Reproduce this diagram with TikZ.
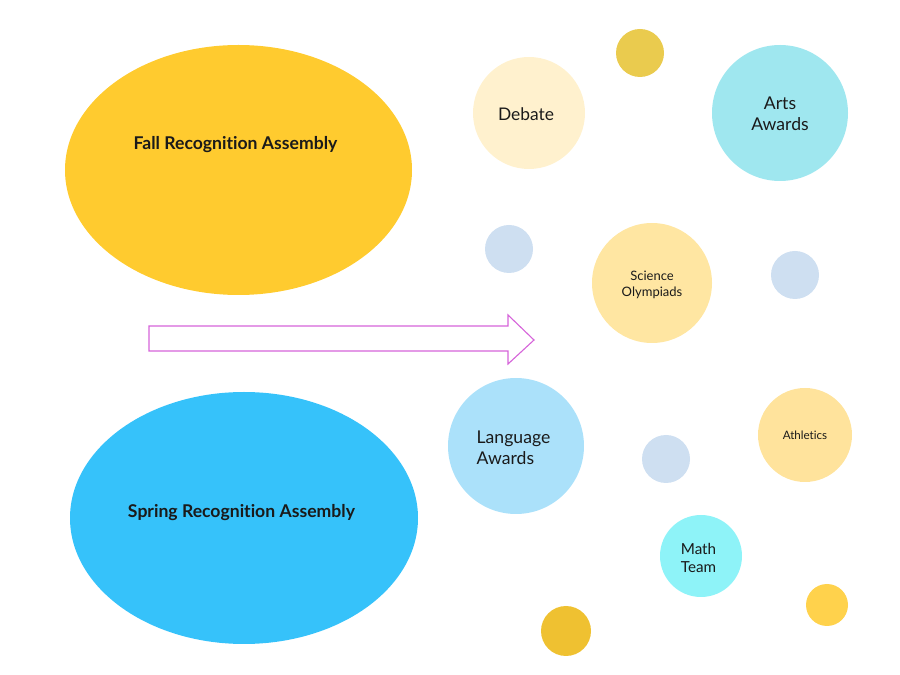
\documentclass[tikz,border=0pt]{standalone}
\usepackage{fontspec}
\setmainfont[Ligatures=NoCommon]{Lato}
\usetikzlibrary{shapes.geometric,shapes.arrows}
\definecolor{fallc}{HTML}{FFCB2F}
\definecolor{springc}{HTML}{36C2FA}
\definecolor{debatec}{HTML}{FFF1CE}
\definecolor{artsc}{HTML}{9FE7EF}
\definecolor{scic}{HTML}{FFE6A2}
\definecolor{langc}{HTML}{ABE1FA}
\definecolor{athc}{HTML}{FFE39C}
\definecolor{mathc}{HTML}{8EF3F8}
\definecolor{dotblue}{HTML}{CEDFF1}
\definecolor{golda}{HTML}{EACB4E}
\definecolor{goldb}{HTML}{EFC131}
\definecolor{goldc}{HTML}{FFD24C}
\definecolor{arrowc}{HTML}{D664DA}
\definecolor{txt}{HTML}{1A1A1A}
\tikzset{
  bubble/.style={circle, inner sep=0pt, text=txt, align=center},
  big/.style={ellipse, inner sep=0pt},
  bigtext/.style={text=txt, font=\bfseries\fontsize{17.6}{21}\selectfont}
}
\begin{document}
\begin{tikzpicture}[x=1pt,y=1pt]
\useasboundingbox (0,0) rectangle (900,675);
% big ellipses
\node[big, fill=fallc, minimum width=347pt, minimum height=250pt] (fall) at (238.5,505) {};
\node[bigtext] (falltxt) at (235.5,530.5) {Fall Recognition Assembly};
\node[big, fill=springc, minimum width=348pt, minimum height=252pt] (spring) at (244,157) {};
\node[bigtext] (springtxt) at (241.5,162.5) {Spring Recognition Assembly};
% arrow
\draw[arrowc, line width=1.1pt, fill=white, line join=miter]
  (149,349) -- (508,349) -- (508,360) -- (534,335) -- (508,311) -- (508,324) -- (149,324) -- cycle;
\coordinate (arrowtip) at (534,335);
% bubbles
\node[bubble, fill=golda, minimum size=48pt] (g1) at (640,622) {};
\node[bubble, fill=debatec, minimum size=112pt] (debate) at (529,562) {};
\node[text=txt, font=\fontsize{17.4}{20}\selectfont] (debatetxt) at (526,561) {Debate};
\node[bubble, fill=artsc, minimum size=136pt] (arts) at (780,562) {};
\node[text=txt, align=center, font=\fontsize{17.6}{21}\selectfont] (artstxt) at (780,561) {Arts\\Awards};
\node[bubble, fill=dotblue, minimum size=48pt] (b1) at (509,426) {};
\node[bubble, fill=scic, minimum size=120pt] (sci) at (652,392) {};
\node[text=txt, align=center, font=\fontsize{13}{16}\selectfont] (scitxt) at (652,390) {Science\\Olympiads};
\node[bubble, fill=dotblue, minimum size=48pt] (b2) at (795,400) {};
\node[bubble, fill=langc, minimum size=136pt] (lang) at (516,229) {};
\node[text=txt, align=left, font=\fontsize{17.6}{21}\selectfont] (langtxt) at (513.5,227.5) {Language\\Awards};
\node[bubble, fill=dotblue, minimum size=48pt] (b3) at (666,216) {};
\node[bubble, fill=athc, minimum size=94pt, font=\fontsize{11.6}{14}\selectfont] (ath) at (805,240) {Athletics};
\node[bubble, fill=mathc, minimum size=82pt] (math) at (701,119) {};
\node[text=txt, align=left, font=\fontsize{15.2}{18}\selectfont] (mathtxt) at (698.5,117.5) {Math\\Team};
\node[bubble, fill=goldb, minimum size=50pt] (g2) at (566,44) {};
\node[bubble, fill=goldc, minimum size=42pt] (g3) at (827,70) {};
\end{tikzpicture}
\end{document}
